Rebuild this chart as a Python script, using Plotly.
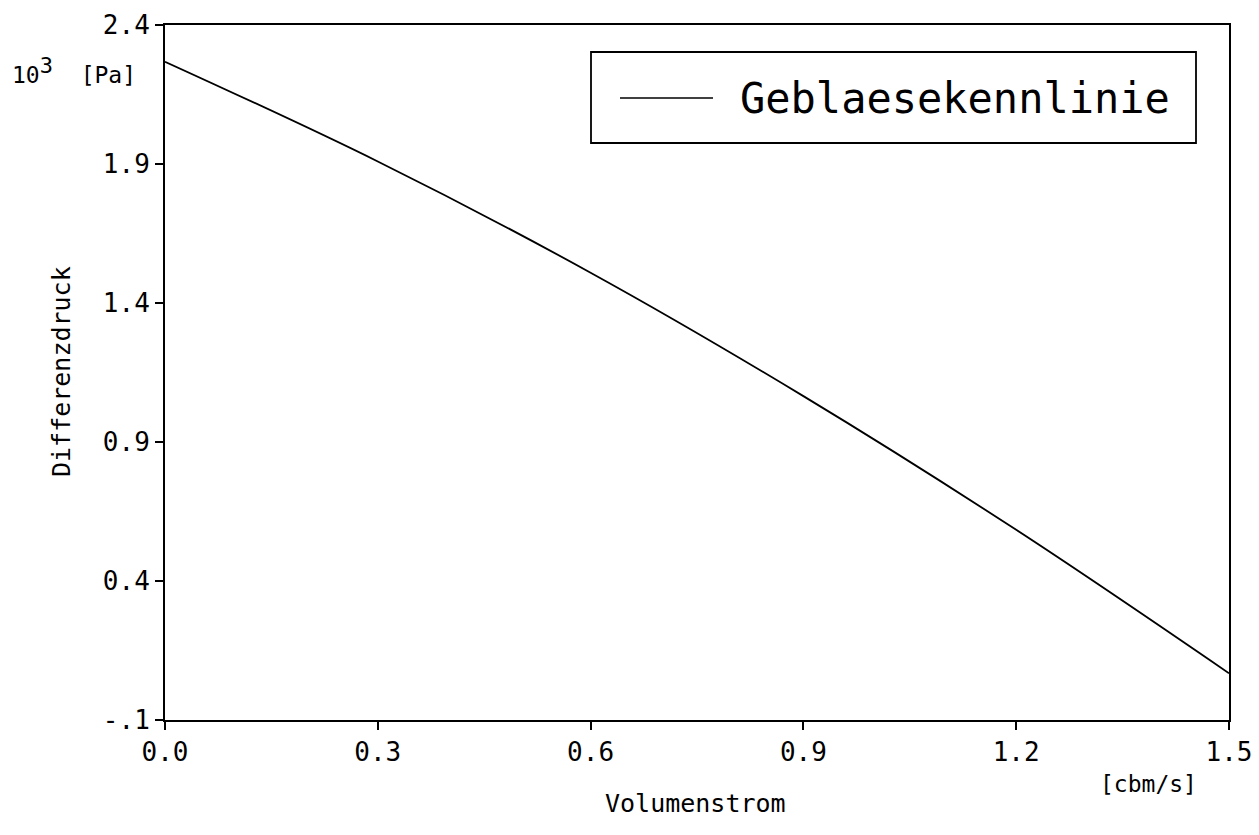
import plotly.graph_objects as go

# Fan characteristic: differential pressure (10^3 Pa) over volume flow (cbm/s)
flow = [0.0, 0.3, 0.6, 0.9, 1.2, 1.5]
pressure = [2.268, 1.909, 1.509, 1.065, 0.584, 0.068]

x_ticks = [0.0, 0.3, 0.6, 0.9, 1.2, 1.5]
x_tick_text = ["0.0", "0.3", "0.6", "0.9", "1.2", "1.5"]
y_ticks = [-0.1, 0.4, 0.9, 1.4, 1.9, 2.4]
y_tick_text = ["-.1", "0.4", "0.9", "1.4", "1.9", "2.4"]

series_name = "Geblaesekennlinie"

W, H = 1259, 835
L, R, T, B = 165, 30, 25, 115
FONT = "DejaVu Sans Mono"


def px(x):
    return (x - L) / (W - L - R)


def py(y):
    return (H - B - y) / (H - T - B)


fig = go.Figure()
fig.add_trace(go.Scatter(
    x=flow, y=pressure, mode="lines", name=series_name,
    line=dict(color="black", width=1.8, shape="spline", smoothing=1.0),
    showlegend=False,
))

axis_common = dict(
    showline=True, linecolor="black", linewidth=2, mirror=True,
    ticks="outside", ticklen=8, tickwidth=1.5, tickcolor="black",
    showgrid=False, zeroline=False, automargin=False,
    tickfont=dict(family=FONT, size=26, color="black"),
)

fig.update_xaxes(range=[0, 1.5], tickvals=x_ticks, ticktext=x_tick_text, **axis_common)
fig.update_yaxes(range=[-0.1, 2.4], tickvals=y_ticks, ticktext=y_tick_text, **axis_common)

# Legend drawn as a framed box with a line sample and label
fig.add_shape(type="rect", xref="paper", yref="paper",
              x0=px(591), x1=px(1196), y0=py(143), y1=py(52),
              line=dict(color="black", width=1.8))
fig.add_shape(type="line", xref="paper", yref="paper",
              x0=px(620), x1=px(713), y0=py(98), y1=py(98),
              line=dict(color="black", width=1.5))

annotations = [
    dict(text=series_name, x=px(738), y=py(99), xanchor="left", yanchor="middle",
         font=dict(family=FONT, size=42, color="black")),
    dict(text="10<sup><span style='font-size:22px'>3</span></sup>  [Pa]",
         x=px(10), y=py(70), xanchor="left", yanchor="middle",
         font=dict(family=FONT, size=23, color="black")),
    dict(text="Differenzdruck", x=px(61), y=py(372), xanchor="center", yanchor="middle",
         textangle=-90, font=dict(family=FONT, size=25, color="black")),
    dict(text="Volumenstrom", x=px(695), y=py(803), xanchor="center", yanchor="middle",
         font=dict(family=FONT, size=25, color="black")),
    dict(text="[cbm/s]", x=px(1199), y=py(784), xanchor="right", yanchor="middle",
         font=dict(family=FONT, size=23, color="black")),
]
for a in annotations:
    a.update(xref="paper", yref="paper", showarrow=False)

fig.update_layout(
    width=W, height=H,
    margin=dict(l=L, r=R, t=T, b=B),
    paper_bgcolor="white", plot_bgcolor="white",
    annotations=annotations,
)

fig.write_html("out.html")
